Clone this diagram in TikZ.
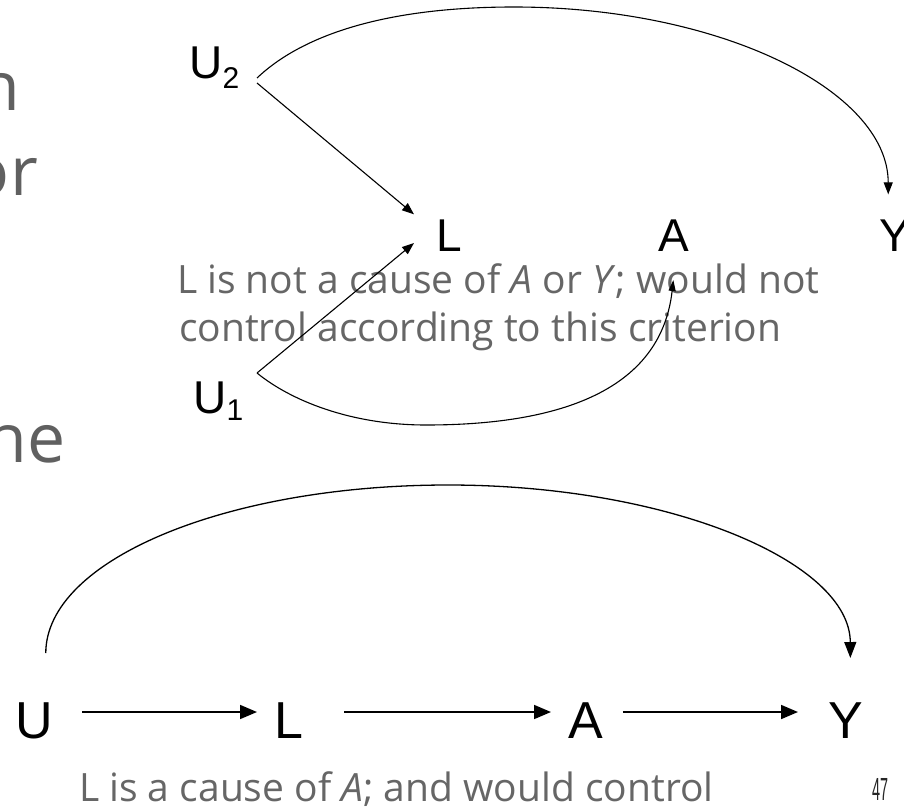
\documentclass[tikz,border=0pt]{standalone}
\usepackage{fontspec}
\setmainfont{Open Sans}
\newfontfamily\arialf{Liberation Sans}
\usetikzlibrary{arrows.meta}
\definecolor{capgrey}{HTML}{666666}
\definecolor{fraggrey}{HTML}{606060}
\begin{document}
\begin{tikzpicture}[x=1pt,y=1pt,
  varnode/.style={inner sep=0pt, outer sep=0pt, font=\arialf\fontsize{46}{46}\selectfont, anchor=base west},
  bvarnode/.style={inner sep=0pt, outer sep=0pt, font=\arialf\fontsize{52}{52}\selectfont, anchor=base west, text height=52pt, text depth=0pt},
  captext/.style={inner sep=0pt, outer sep=0pt, anchor=base west, text=capgrey, font=\fontsize{39}{47}\selectfont},
  fragtext/.style={inner sep=0pt, anchor=base east, text=fraggrey, font=\fontsize{68}{70}\selectfont},
  tarr/.style={line width=1.1pt, -{Triangle[length=12pt,width=9pt]}},
  darr/.style={line width=1.1pt, -{Triangle[length=11pt,width=7pt]}},
  barr/.style={line width=1.7pt, -{Triangle[length=17pt,width=14pt]}},
  arcarr/.style={line width=1.3pt, -{Triangle[length=16pt,width=12pt]}},
]
\path[use as bounding box, fill=white] (0,-808) rectangle (904,0);
\begin{scope}
  \clip (0,-808) rectangle (904,0);
  \node[fragtext] (f1) at (20,-110) {n};
  \node[fragtext] (f2) at (38,-195) {or};
  \node[fragtext] (f3) at (66,-462) {he};
\end{scope}

% captions
\node[captext] (c1) at (177,-293) {L is not a cause of \textit{A} or \textit{Y}; would not};
\node[captext] (c2) at (179,-341) {control according to this criterion};
\node[captext] (c3) at (79,-801) {L is a cause of \textit{A}; and would control};
\node[anchor=base west, inner sep=0pt, text=black!85, font=\arialf\fontsize{32}{32}\selectfont] (pg) at (872,-800) {\scalebox{0.45}[1]{47}};

% top diagram
\node[varnode] (U2) at (189.4,-78) {U\raisebox{-10pt}{\fontsize{30}{30}\selectfont 2}};
\node[varnode] (L2) at (436.6,-251) {L};
\node[varnode] (A2) at (658,-251) {A};
\node[varnode] (Y2) at (879.9,-251) {Y};
\node[varnode] (U1) at (193.4,-413) {U\raisebox{-7pt}{\fontsize{30}{30}\selectfont 1}};

\draw[tarr] ([shift={(17.7pt,0pt)}]U2.base east) .. controls +(40pt,38pt) and (374,-7) .. (514,-7) .. controls (719,-7) and (888,-90) .. ([shift={(-7pt,25pt)}]Y2.north);
\draw[tarr] ([shift={(17.7pt,-5pt)}]U2.base east) -- ([shift={(-22.6pt,5pt)}]L2.north west);
\draw[tarr] ([shift={(13.7pt,40pt)}]U1.base east) -- ([shift={(-22.6pt,8pt)}]L2.south west);
\draw[darr] ([shift={(13.7pt,40pt)}]U1.base east) .. controls +(33pt,-27pt) and (350,-425) .. (426,-425) .. controls (540,-425) and (660,-400) .. ([yshift=-29pt]A2.south);

% bottom diagram
\node[bvarnode] (U) at (16,-738) {U};
\node[bvarnode] (L) at (274.2,-738) {L};
\node[bvarnode] (A) at (568,-738) {A};
\node[bvarnode] (Y) at (828,-738) {Y};

\draw[barr, shorten <=28.5pt, shorten >=17.2pt] (U.east) -- (L.west);
\draw[barr, shorten <=41pt, shorten >=17pt] (L.east) -- (A.west);
\draw[barr, shorten <=20.3pt, shorten >=30pt] (A.east) -- (Y.west);
\draw[arcarr] ([shift={(11pt,33pt)}]U.north) .. controls (46,-560) and (226,-485) .. (448,-485) .. controls (670,-485) and (850,-562) .. ([shift={(5pt,28pt)}]Y.north);
\end{tikzpicture}
\end{document}
